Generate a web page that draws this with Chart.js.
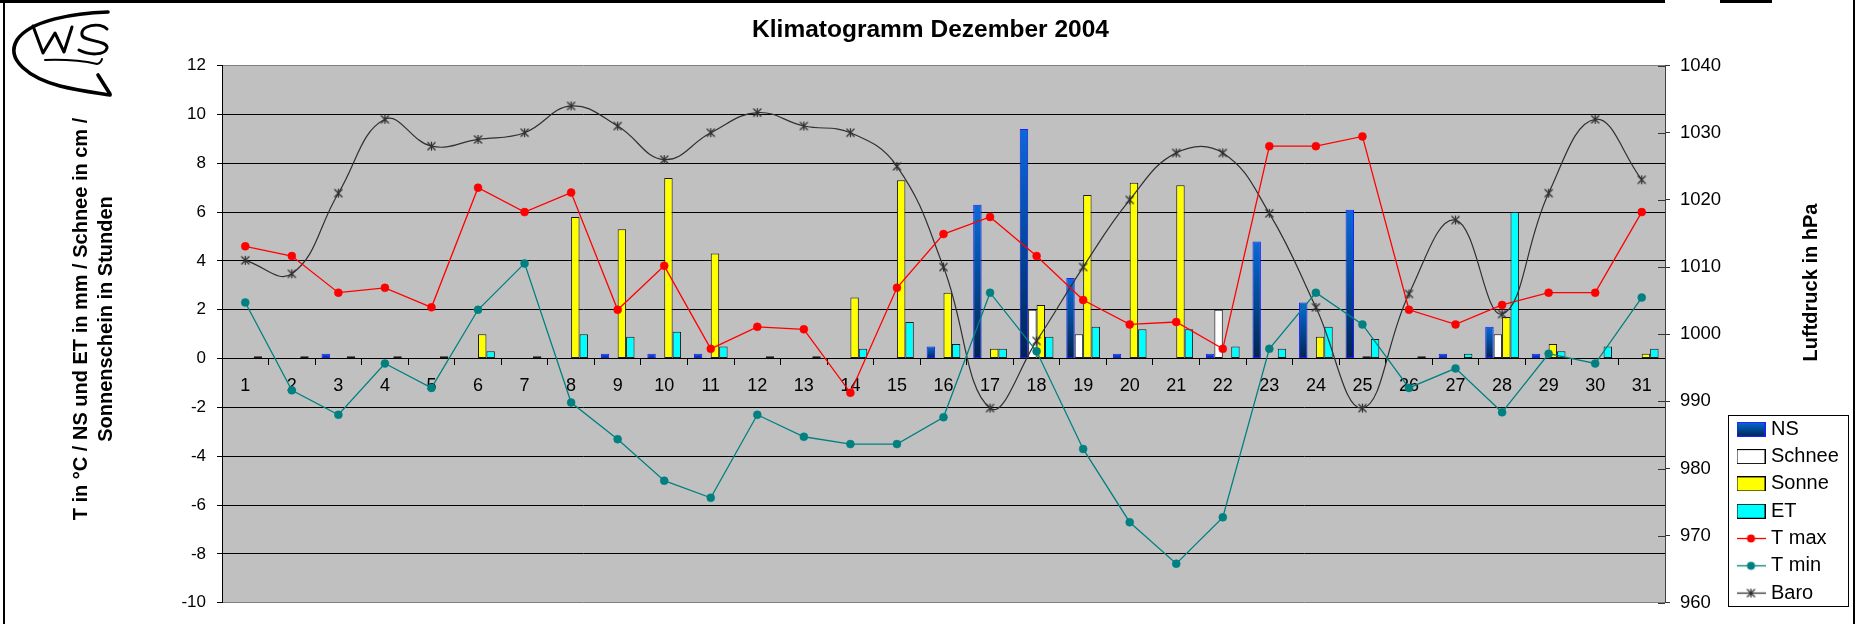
<!DOCTYPE html>
<html>
<head>
<meta charset="utf-8">
<script src="https://cdn.jsdelivr.net/npm/chart.js@4.4.1/dist/chart.umd.min.js"></script>
<style>
  html, body { margin: 0; padding: 0; background: #ffffff; }
  #wrap { position: relative; width: 1861px; height: 624px; }
</style>
</head>
<body>
<div id="wrap"><canvas id="c"></canvas></div>
<script>
// ---------- data ----------
const days = ['1','2','3','4','5','6','7','8','9','10','11','12','13','14','15','16','17','18','19','20','21','22','23','24','25','26','27','28','29','30','31'];
const ns     = [0,0,0.2,0,0,0,0,0,0.2,0.2,0.2,0,0,0,0,0.5,6.3,9.4,3.3,0.2,0,0.2,4.8,2.3,6.1,0,0.2,1.3,0.2,0,0];
const schnee = [0,0,0,0,0,0,0,0,0,0,0,0,0,0,0,0,0,2.0,1.0,0,0,2.0,0,0,0,0,0,1.0,0,0,0];
const sonne  = [0,0,0,0,0,1.0,0,5.8,5.3,7.4,4.3,0,0,2.5,7.3,2.7,0.4,2.2,6.7,7.2,7.1,0,0,0.9,0.1,0,0,1.7,0.6,0,0.2];
const et     = [0.1,0.1,0.1,0.1,0.1,0.3,0.1,1.0,0.9,1.1,0.5,0.1,0.1,0.4,1.5,0.6,0.4,0.9,1.3,1.2,1.2,0.5,0.4,1.3,0.8,0.1,0.2,6.0,0.3,0.5,0.4];
const tmax   = [4.6,4.2,2.7,2.9,2.1,7.0,6.0,6.8,2.0,3.8,0.4,1.3,1.2,-1.4,2.9,5.1,5.8,4.2,2.4,1.4,1.5,0.4,8.7,8.7,9.1,2.0,1.4,2.2,2.7,2.7,6.0];
const tmin   = [2.3,-1.3,-2.3,-0.2,-1.2,2.0,3.9,-1.8,-3.3,-5.0,-5.7,-2.3,-3.2,-3.5,-3.5,-2.4,2.7,0.3,-3.7,-6.7,-8.4,-6.5,0.4,2.7,1.4,-1.2,-0.4,-2.2,0.2,-0.2,2.5];
const baro   = [1011,1009,1021,1032,1028,1029,1030,1034,1031,1026,1030,1033,1031,1030,1025,1010,989,999,1010,1020,1027,1027,1018,1004,989,1006,1017,1003,1021,1032,1023];

const seriesLabels = ['NS','Schnee','Sonne','ET','T max','T min','Baro'];
const leftScale  = { min: -10, max: 12, step: 2 };
const rightScale = { min: 960, max: 1040, step: 10 };
const titleText = 'Klimatogramm Dezember 2004';
const leftTitle = ['T in °C / NS und ET in mm / Schnee in cm /', 'Sonnenschein in Stunden'];
const rightTitle = 'Luftdruck in hPa';

// ---------- styling helpers ----------
const FONT = '"Liberation Sans", Arial, Helvetica, sans-serif';
Chart.defaults.font.family = FONT;
Chart.defaults.color = '#000';

function nsGrad(g, top, bottom) {
  const gr = g.createLinearGradient(0, top, 0, bottom);
  gr.addColorStop(0, '#0A6AD6');
  gr.addColorStop(0.5, '#004A98');
  gr.addColorStop(1, '#00234F');
  return gr;
}

function barIcon(fill, stroke) {
  const c = document.createElement('canvas');
  c.width = 29; c.height = 15;
  const g = c.getContext('2d');
  g.fillStyle = fill === 'grad' ? nsGrad(g, 0, 15) : fill;
  g.fillRect(0, 0, 29, 15);
  g.strokeStyle = stroke; g.lineWidth = 1;
  g.strokeRect(0.5, 0.5, 28, 14);
  return c;
}
function starMark(g, cx, cy, r, color) {
  g.strokeStyle = color; g.lineWidth = 1.2;
  g.beginPath();
  g.moveTo(cx - r, cy - r); g.lineTo(cx + r, cy + r);
  g.moveTo(cx + r, cy - r); g.lineTo(cx - r, cy + r);
  g.moveTo(cx, cy - r - 0.5); g.lineTo(cx, cy + r + 0.5);
  g.stroke();
}
function lineIcon(color, marker) {
  const c = document.createElement('canvas');
  c.width = 29; c.height = 11;
  const g = c.getContext('2d');
  g.strokeStyle = color; g.lineWidth = 1.3;
  g.beginPath(); g.moveTo(0, 5.5); g.lineTo(29, 5.5); g.stroke();
  if (marker === 'circle') {
    g.fillStyle = color;
    g.beginPath(); g.arc(14.5, 5.5, 4, 0, Math.PI * 2); g.fill();
  } else {
    starMark(g, 14.5, 5.5, 4, color);
  }
  return c;
}
const starPoint = (() => {
  const c = document.createElement('canvas');
  c.width = 11; c.height = 11;
  starMark(c.getContext('2d'), 5.5, 5.5, 4, '#303030');
  return c;
})();

const legendIcons = [
  barIcon('grad', '#1E1EFF'),
  barIcon('#FFFFFF', '#000'),
  barIcon('#FFFF00', '#000'),
  barIcon('#00FFFF', '#000'),
  lineIcon('#FF0000', 'circle'),
  lineIcon('#008080', 'circle'),
  lineIcon('#303030', 'star')
];

function nsBackground(c) {
  const chart = c.chart;
  if (c.type !== 'data' || !chart.chartArea || !chart.scales.y) return '#004A98';
  const v = c.raw;
  if (!v) return '#004A98';
  const ys = chart.scales.y;
  return nsGrad(chart.ctx, ys.getPixelForValue(v), ys.getPixelForValue(0));
}

// ---------- decoration plugin ----------
const decor = {
  id: 'decor',
  beforeDraw(chart) {
    const { ctx, chartArea: a } = chart;
    ctx.save();
    ctx.fillStyle = '#C0C0C0';
    ctx.fillRect(a.left, a.top, a.right - a.left, a.bottom - a.top);
    ctx.restore();
  },
  afterLayout(chart) {
    const lg = chart.legend;
    if (!lg) return;
    lg.left = 1733.7; lg.right = 1852;
    lg.top = 412; lg.bottom = 640;
    lg.width = lg.right - lg.left; lg.height = lg.bottom - lg.top;
  },
  afterDraw(chart) {
    const { ctx, chartArea: a } = chart;
    ctx.save();
    // inner tick marks of the right axis (cross ticks)
    const y1 = chart.scales.y1;
    ctx.strokeStyle = '#333'; ctx.lineWidth = 1;
    for (let v = rightScale.min; v <= rightScale.max; v += rightScale.step) {
      const py = Math.round(y1.getPixelForValue(v)) + 0.5;
      ctx.beginPath(); ctx.moveTo(a.right - 7, py); ctx.lineTo(a.right, py); ctx.stroke();
    }
    // axis titles
    ctx.fillStyle = '#000';
    ctx.font = 'bold 20px ' + FONT;
    ctx.textAlign = 'center'; ctx.textBaseline = 'middle';
    const lx = [81.7, 106.7];
    leftTitle.forEach((t, i) => {
      ctx.save(); ctx.translate(lx[i], 319); ctx.rotate(-Math.PI / 2); ctx.fillText(t, 0, 0); ctx.restore();
    });
    ctx.save(); ctx.translate(1811.7, 282.5); ctx.rotate(-Math.PI / 2); ctx.fillText(rightTitle, 0, 0); ctx.restore();
    // legend frame
    ctx.strokeStyle = '#000'; ctx.lineWidth = 1;
    ctx.strokeRect(1728.5, 415.5, 120, 191);
    // outer frame
    ctx.fillStyle = '#000';
    ctx.fillRect(0, 0, 1665, 3);
    ctx.fillRect(1720, 0, 52, 3);
    ctx.fillRect(3, 0, 2, 624);
    ctx.fillRect(1853, 0, 2, 624);
    // logo
    ctx.strokeStyle = '#000'; ctx.lineCap = 'round'; ctx.lineJoin = 'round';
    ctx.lineWidth = 3.6;
    ctx.beginPath();
    ctx.moveTo(108, 12);
    ctx.bezierCurveTo(75, 13, 30, 20, 17, 40);
    ctx.bezierCurveTo(5, 60, 30, 78, 60, 86);
    ctx.bezierCurveTo(80, 91, 98, 93, 110, 95);
    ctx.stroke();
    ctx.beginPath(); ctx.moveTo(98, 75); ctx.lineTo(110, 94); ctx.stroke();
    ctx.lineWidth = 3;
    ctx.beginPath();
    ctx.moveTo(33, 26); ctx.lineTo(43, 53); ctx.lineTo(55, 33); ctx.lineTo(64, 52); ctx.lineTo(72, 27);
    ctx.stroke();
    ctx.beginPath();
    ctx.moveTo(107, 29);
    ctx.bezierCurveTo(100, 22, 80, 25, 82, 35);
    ctx.bezierCurveTo(84, 42, 108, 40, 107, 48);
    ctx.bezierCurveTo(105, 56, 88, 55, 79, 50);
    ctx.stroke();
    ctx.lineWidth = 2;
    ctx.beginPath();
    ctx.moveTo(45, 60); ctx.quadraticCurveTo(75, 59, 97, 64); ctx.quadraticCurveTo(101, 63, 102, 59);
    ctx.stroke();
    ctx.restore();
  }
};

// ---------- chart ----------
const barCommon = { type: 'bar', yAxisID: 'y', borderWidth: 1, borderSkipped: false, barPercentage: 1, categoryPercentage: 0.724, order: 1 };
const lineCommon = { type: 'line', fill: false, tension: 0, pointHoverRadius: 4, order: 0 };

new Chart(document.getElementById('c'), {
  type: 'bar',
  data: {
    labels: days,
    datasets: [
      Object.assign({}, barCommon, { label: seriesLabels[0], data: ns, backgroundColor: nsBackground, borderColor: '#1E1EFF' }),
      Object.assign({}, barCommon, { label: seriesLabels[1], data: schnee, backgroundColor: '#FFFFFF', borderColor: '#1a1a1a' }),
      Object.assign({}, barCommon, { label: seriesLabels[2], data: sonne, backgroundColor: '#FFFF00', borderColor: '#1a1a1a' }),
      Object.assign({}, barCommon, { label: seriesLabels[3], data: et, backgroundColor: '#00FFFF', borderColor: '#1a1a1a' }),
      Object.assign({}, lineCommon, { label: seriesLabels[4], data: tmax, yAxisID: 'y', borderColor: '#FF0000', backgroundColor: '#FF0000', borderWidth: 1.3, pointRadius: 4, pointBorderWidth: 0.5, pointBorderColor: '#FF0000', pointBackgroundColor: '#FF0000' }),
      Object.assign({}, lineCommon, { label: seriesLabels[5], data: tmin, yAxisID: 'y', borderColor: '#008080', backgroundColor: '#008080', borderWidth: 1.3, pointRadius: 4, pointBorderWidth: 0.5, pointBorderColor: '#008080', pointBackgroundColor: '#008080' }),
      Object.assign({}, lineCommon, { label: seriesLabels[6], data: baro, yAxisID: 'y1', borderColor: '#303030', backgroundColor: '#303030', borderWidth: 1.2, pointStyle: starPoint, pointRadius: 5, tension: 0.42 })
    ]
  },
  options: {
    responsive: true,
    maintainAspectRatio: false,
    devicePixelRatio: 1,
    animation: false,
    events: [],
    layout: { padding: { left: 0, right: 0, top: 0, bottom: 20 } },
    plugins: {
      tooltip: { enabled: false },
      title: {
        display: true, text: titleText, color: '#000',
        font: { size: 24.5, weight: 'bold' },
        padding: { top: 16, bottom: 20.2 }
      },
      legend: {
        display: true, position: 'right', align: 'start', maxWidth: 1,
        labels: {
          usePointStyle: true, pointStyleWidth: 20, padding: 7.3,
          font: { size: 20 }, color: '#000',
          generateLabels: (chart) => chart.data.datasets.map((ds, i) => ({
            text: ds.label, pointStyle: legendIcons[i], fillStyle: 'rgba(0,0,0,0)',
            strokeStyle: 'rgba(0,0,0,0)', lineWidth: 0, hidden: false, datasetIndex: i, fontColor: '#000'
          }))
        }
      }
    },
    scales: {
      x: {
        type: 'category',
        position: { y: 0 },
        offset: true,
        grid: { display: true, drawOnChartArea: false, drawTicks: true, tickLength: 6, offset: true, color: '#000', tickColor: '#000' },
        border: { display: true, color: '#000', width: 1 },
        ticks: { autoSkip: false, maxRotation: 0, minRotation: 0, padding: 11, font: { size: 18 }, color: '#000' }
      },
      y: {
        position: 'left',
        min: leftScale.min, max: leftScale.max,
        ticks: { stepSize: leftScale.step, padding: 11, font: { size: 17 }, color: '#000', callback: (v) => String(v) },
        grid: {
          color: (c) => (c.tick && (c.tick.value === leftScale.max || c.tick.value === leftScale.min)) ? '#808080' : '#000',
          tickColor: '#000', tickLength: 5, lineWidth: 1
        },
        border: { color: '#000', width: 1 },
        afterFit: (s) => { s.width = 222; }
      },
      y1: {
        position: 'right',
        min: rightScale.min, max: rightScale.max,
        ticks: { stepSize: rightScale.step, padding: 10, font: { size: 18.5 }, color: '#000', callback: (v) => String(v) },
        grid: { drawOnChartArea: false, tickLength: 5, tickColor: '#333', color: '#333' },
        border: { color: '#404040', width: 1 },
        afterFit: (s) => { s.width = 195; }
      }
    }
  },
  plugins: [decor]
});
</script>
</body>
</html>
